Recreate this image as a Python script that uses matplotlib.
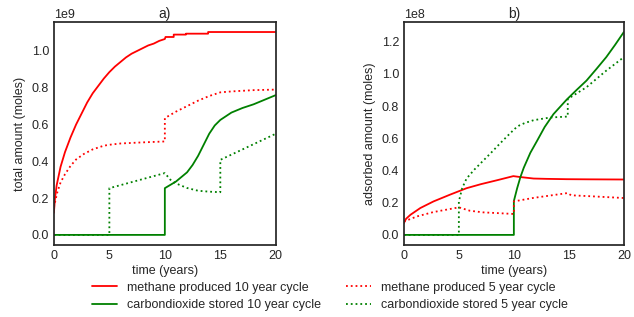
import matplotlib.pyplot as plt

plt.style.use("seaborn-v0_8-white")
plt.rcParams["font.family"] = ["Liberation Sans", "DejaVu Sans"]

# --- a) total amount (x1e9 moles) ---
t_ch4_10 = [0, 0.1, 0.25, 0.6, 1, 1.5, 2, 2.5, 3, 3.5, 4, 4.5, 5, 5.5, 6, 6.5, 7, 7.5,
            8, 8.5, 9, 9.5, 10,
            10.06, 10.8, 10.8, 11.9, 11.9, 13.9, 13.9, 20]
ch4_10 = [0.12, 0.2, 0.27, 0.37, 0.45, 0.53, 0.60, 0.66, 0.72, 0.77, 0.81, 0.85, 0.885,
          0.915, 0.94, 0.965, 0.985, 1.0, 1.015, 1.03, 1.04, 1.055, 1.065,
          1.076, 1.076, 1.089, 1.089, 1.094, 1.094, 1.103, 1.103]

t_ch4_5 = [0, 0.3, 0.6, 1, 1.5, 2, 2.7, 3.5, 4.5, 5, 6, 8, 10, 10, 11, 12, 13, 14, 15,
           16, 18, 20]
ch4_5 = [0.15, 0.23, 0.285, 0.33, 0.375, 0.41, 0.44, 0.465, 0.485, 0.49, 0.497, 0.503, 0.508,
         0.635, 0.67, 0.70, 0.73, 0.755, 0.775, 0.78, 0.787, 0.79]

t_co2_10 = [0, 10, 10, 11, 12, 12.5, 13, 13.5, 14, 14.5, 15, 16, 17, 18, 19, 20]
co2_10 = [0, 0, 0.254, 0.29, 0.34, 0.38, 0.43, 0.49, 0.55, 0.595, 0.625, 0.665, 0.69, 0.71,
          0.735, 0.76]

t_co2_5 = [0, 5, 5, 10, 10.5, 11, 12, 13, 14, 15, 15, 20]
co2_5 = [0, 0, 0.254, 0.336, 0.30, 0.28, 0.255, 0.24, 0.235, 0.232, 0.408, 0.55]

# --- b) adsorbed amount (x1e8 moles) ---
t_ads_ch4_10 = [0, 0.2, 0.6, 1.5, 2.7, 4.2, 5.7, 7, 8.5, 9.95, 10.5, 11.8, 13, 14.8, 17, 20]
ads_ch4_10 = [0.073, 0.1, 0.125, 0.167, 0.208, 0.25, 0.29, 0.315, 0.34, 0.365, 0.36, 0.35,
              0.348, 0.346, 0.345, 0.344]

t_ads_ch4_5 = [0, 1.2, 2.7, 5, 6, 7.2, 10, 10, 11.8, 14.9, 15.2, 17, 20]
ads_ch4_5 = [0.083, 0.115, 0.142, 0.171, 0.15, 0.14, 0.13, 0.208, 0.23, 0.26, 0.246, 0.24,
             0.229]

t_ads_co2_10 = [0, 10, 10, 10.3, 10.6, 10.9, 11.5, 12.1, 12.8, 13.6, 14.8, 15.7, 16.6, 17.5,
                18.4, 19.2, 20]
ads_co2_10 = [0, 0, 0.21, 0.29, 0.36, 0.417, 0.51, 0.583, 0.67, 0.75, 0.84, 0.90, 0.958,
              1.03, 1.104, 1.18, 1.26]

t_ads_co2_5 = [0, 5, 5, 5.3, 5.7, 6.4, 7.2, 8, 8.7, 9.5, 10.1, 10.5, 11, 11.8, 13.3, 14.9,
               14.9, 16.6, 18.4, 20]
ads_co2_5 = [0, 0, 0.208, 0.29, 0.35, 0.405, 0.46, 0.515, 0.565, 0.62, 0.66, 0.68, 0.695,
             0.7125, 0.729, 0.735, 0.844, 0.917, 1.02, 1.104]

fig = plt.figure(figsize=(6.34, 3.17), dpi=100)
ax1 = fig.add_axes([0.085, 0.227, 0.35, 0.704])
ax2 = fig.add_axes([0.637, 0.227, 0.347, 0.704])

red, green = "#ff0000", "#008000"

ax1.plot(t_ch4_10, [v * 1e9 for v in ch4_10], color=red, lw=1.3,
         label="methane produced 10 year cycle")
ax1.plot(t_co2_10, [v * 1e9 for v in co2_10], color=green, lw=1.3,
         label="carbondioxide stored 10 year cycle")
ax1.plot(t_ch4_5, [v * 1e9 for v in ch4_5], color=red, lw=1.3, ls=":",
         label="methane produced 5 year cycle")
ax1.plot(t_co2_5, [v * 1e9 for v in co2_5], color=green, lw=1.3, ls=":",
         label="carbondioxide stored 5 year cycle")

ax2.plot(t_ads_ch4_10, [v * 1e8 for v in ads_ch4_10], color=red, lw=1.3)
ax2.plot(t_ads_co2_10, [v * 1e8 for v in ads_co2_10], color=green, lw=1.3)
ax2.plot(t_ads_ch4_5, [v * 1e8 for v in ads_ch4_5], color=red, lw=1.3, ls=":")
ax2.plot(t_ads_co2_5, [v * 1e8 for v in ads_co2_5], color=green, lw=1.3, ls=":")

for ax, lab, ttl in [(ax1, "total amount (moles)", "a)"),
                     (ax2, "adsorbed amount (moles)", "b)")]:
    ax.set_xlim(0, 20)
    ax.set_xticks([0, 5, 10, 15, 20])
    ax.set_xlabel("time (years)", fontsize=9, labelpad=2)
    ax.set_ylabel(lab, fontsize=9)
    ax.set_title(ttl, fontsize=10, pad=3)
    ax.tick_params(labelsize=9)
    ax.yaxis.get_offset_text().set_fontsize(9)

ax1.set_yticks([0, 0.2e9, 0.4e9, 0.6e9, 0.8e9, 1.0e9])
ax2.set_yticks([0, 0.2e8, 0.4e8, 0.6e8, 0.8e8, 1.0e8, 1.2e8])

fig.legend(loc="center", bbox_to_anchor=(330 / 634, 1 - 296.5 / 317), ncol=2,
           fontsize=9, frameon=False, borderaxespad=0, labelspacing=0.45)

fig.savefig("out.png", dpi=100)
